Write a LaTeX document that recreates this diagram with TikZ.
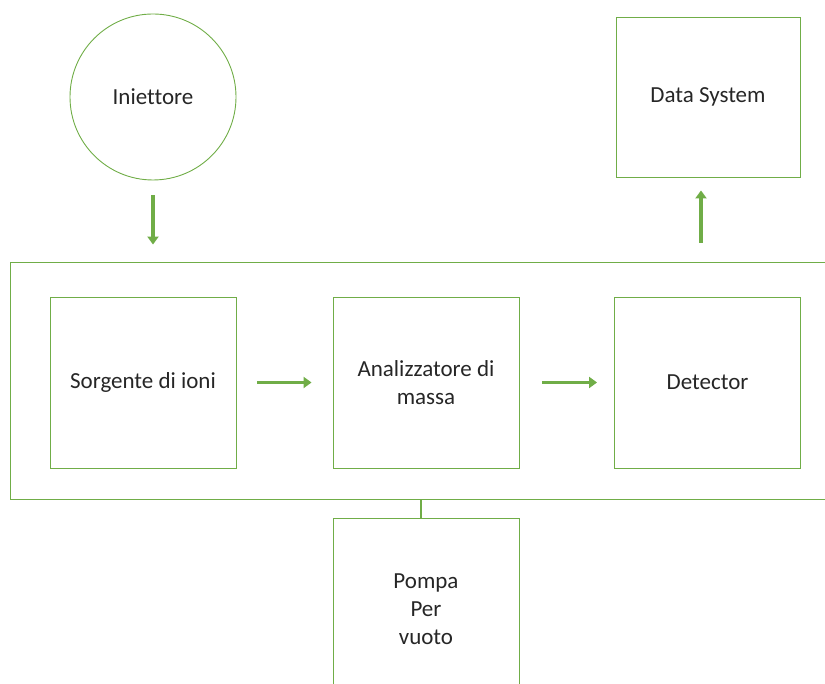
\documentclass[tikz,border=0pt]{standalone}
\usepackage{fontspec}
\setmainfont{Carlito}[Ligatures=NoCommon]
\usetikzlibrary{positioning,arrows.meta}
\definecolor{officegreen}{HTML}{70AD47}
\definecolor{textgray}{HTML}{262626}

\tikzset{
  box/.style={draw=officegreen, line width=0.9pt, minimum width=186pt, minimum height=171pt,
    align=center, text=textgray, inner sep=2pt},
  flow/.style={draw=officegreen, line width=3.4pt, -{Triangle[length=8pt,width=11pt]}},
}

\begin{document}
\begin{tikzpicture}[x=1pt, y=1pt, font=\fontsize{23}{28}\selectfont]
  \useasboundingbox (0,0) rectangle (825,684);
  \clip (0,0) rectangle (825,684);
  % top row
  \node[box, circle, minimum size=166pt] (inj) at (153,587) {Iniettore};
  \node[box, minimum width=184pt, minimum height=160pt] (datasys) at (708,587) {Data System};
  % spectrometer frame and its stages
  \node[box, minimum width=830pt, minimum height=237pt] (frame) at (425,303.5) {};
  \node[box] (sorg) at (143,301.5) {Sorgente di ioni};
  \node[box] (anal) at (426,301.5) {Analizzatore di\\massa};
  \node[box] (det) at (707.5,301.5) {Detector};
  % pump below
  \node[box, minimum height=182pt] (pompa) at (426,75) {Pompa\\Per\\vuoto};
  % connectors
  \draw[flow] ([yshift=-15pt]inj.south) -- ([yshift=17pt]inj.south |- frame.north);
  \draw[flow, shorten <=21pt, shorten >=21pt] (sorg.east) -- (anal.west);
  \draw[flow, shorten <=23pt, shorten >=17pt] (anal.east) -- (det.west);
  \draw[flow, shorten <=19pt, shorten >=13pt] ([xshift=-7pt]datasys.south |- frame.north) -- ([xshift=-7pt]datasys.south);
  \draw[officegreen, line width=2.6pt] ([xshift=-4pt]frame.south) -- ([xshift=-4pt]frame.south |- pompa.north);
\end{tikzpicture}
\end{document}
